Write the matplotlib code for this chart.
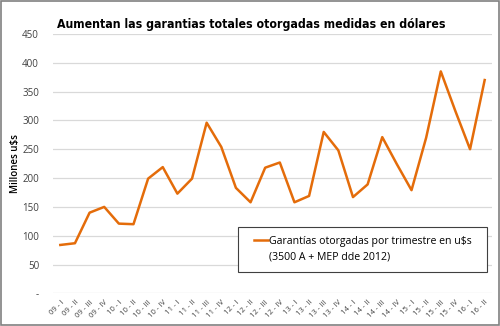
import matplotlib
matplotlib.use('Agg')
import matplotlib.pyplot as plt
from matplotlib.lines import Line2D
from matplotlib.patches import Rectangle

# ── Data: garantías otorgadas por trimestre (millones u$s) ──────────
quarters = [
    '09 - I', '09 - II', '09 - III', '09 - IV',
    '10 - I', '10 - II', '10 - III', '10 - IV',
    '11 - I', '11 - II', '11 - III', '11 - IV',
    '12 - I', '12 - II', '12 - III', '12 - IV',
    '13 - I', '13 - II', '13 - III', '13 - IV',
    '14 - I', '14 - II', '14 - III', '14 - IV',
    '15 - I', '15 - II', '15 - III', '15 - IV',
    '16 - I', '16 - II',
]
garantias = [
    84, 87, 140, 150,
    121, 120, 199, 219,
    173, 199, 296, 254,
    183, 158, 218, 227,
    158, 169, 280, 248,
    167, 189, 271, 224,
    179, 270, 385, 316,
    250, 370,
]
yticks = [0, 50, 100, 150, 200, 250, 300, 350, 400, 450]
ytick_labels = ['-', '50', '100', '150', '200', '250', '300', '350', '400', '450']

LINE_COLOR = '#E46C0A'
GRID_COLOR = '#D9D9D9'
TEXT_COLOR = '#404040'

plt.rcParams['font.family'] = ['Open Sans', 'DejaVu Sans']

fig = plt.figure(figsize=(5.0, 3.26), dpi=100, facecolor='white')
ax = fig.add_axes([0.106, 0.100, 0.878, 0.796])

x = list(range(len(quarters)))
ax.plot(x, garantias, color=LINE_COLOR, lw=1.8, zorder=3)

ax.set_xlim(-0.5, len(quarters) - 0.5)
ax.set_ylim(0, 450)
ax.set_yticks(yticks)
ax.set_yticklabels(ytick_labels, fontsize=7, color=TEXT_COLOR)
ax.set_xticks(x)
ax.set_xticklabels(quarters, fontsize=5.5, rotation=45, ha='right',
                   rotation_mode='anchor', color=TEXT_COLOR)
ax.tick_params(axis='y', length=0, pad=10)
ax.tick_params(axis='x', length=0, pad=4)
ax.grid(axis='y', color=GRID_COLOR, lw=0.9, zorder=0)
for spine in ax.spines.values():
    spine.set_visible(False)

ax.set_ylabel('Millones u$s', fontsize=7, fontweight='semibold',
              color='black', labelpad=1)

fig.text(0.114, 0.925, 'Aumentan las garantias totales otorgadas medidas en dólares',
         fontsize=8.8, fontweight='bold', color='black', fontstretch='condensed',
         family=['DejaVu Sans'], ha='left', va='center')

# legend: line sits beside the first text line only; frame drawn separately
handles = [Line2D([], [], color=LINE_COLOR, lw=1.8),
           Line2D([], [], color='none')]
labels = ['Garantías otorgadas por trimestre en u$s', '(3500 A + MEP dde 2012)']
leg = ax.legend(handles, labels, loc='upper left', bbox_to_anchor=(0.508, 0.276),
                bbox_transform=fig.transFigure, fontsize=7.6, frameon=False,
                handlelength=1.3, handletextpad=0.15, borderpad=0,
                labelspacing=0.43, borderaxespad=0)
leg.set_zorder(6)
ax.add_patch(Rectangle((0.4766, 0.1666), 0.498, 0.138, transform=fig.transFigure,
                       facecolor='white', edgecolor='#404040', lw=0.8,
                       zorder=5, clip_on=False))

# outer chart border
fig.patches.append(Rectangle((0.002, 0.003), 0.996, 0.994, transform=fig.transFigure,
                             fill=False, edgecolor='#808080', lw=1.2))

fig.savefig('out.png', dpi=100, facecolor='white')
